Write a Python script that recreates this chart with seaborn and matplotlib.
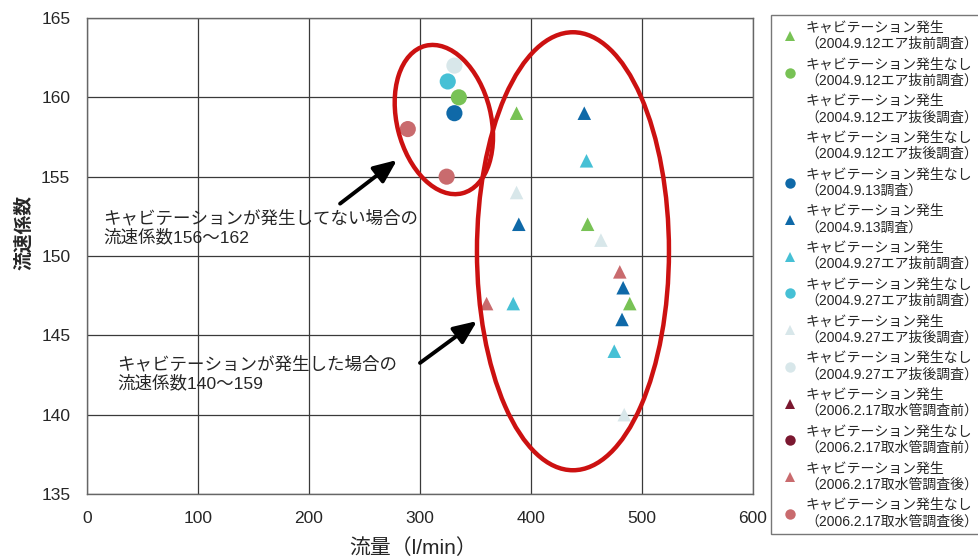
import numpy as np
import pandas as pd
import seaborn as sns
import matplotlib
matplotlib.use('Agg')
import matplotlib.pyplot as plt
from matplotlib.lines import Line2D
from matplotlib.patches import Ellipse
from matplotlib.transforms import ScaledTranslation

sns.set_style('white')
plt.rcParams['font.family'] = ['Liberation Sans', 'Noto Sans CJK JP', 'DejaVu Sans']

# 調査ごとのデータ（キャビテーション発生 = ▲, 発生なし = ●）
surveys = ['2004.9.12エア抜前調査', '2004.9.12エア抜後調査', '2004.9.13調査',
           '2004.9.27エア抜前調査', '2004.9.27エア抜後調査',
           '2006.2.17取水管調査前', '2006.2.17取水管調査後']
colors = ['#78c255', '#ffffff', '#0f69a8', '#46c0d5', '#d8e7ea', '#7b1830', '#c96b6e']

# 発生（▲）
cav_survey = ['2004.9.12エア抜前調査'] * 3 + ['2004.9.13調査'] * 4 \
    + ['2004.9.27エア抜前調査'] * 3 + ['2004.9.27エア抜後調査'] * 3 \
    + ['2006.2.17取水管調査後'] * 2
cav_flow = [387, 451, 489, 448, 389, 483, 482, 450, 384, 475, 387, 463, 484, 480, 360]
cav_coef = [159, 152, 147, 159, 152, 148, 146, 156, 147, 144, 154, 151, 140, 149, 147]

# 発生なし（●）
ok_survey = ['2004.9.27エア抜後調査', '2004.9.27エア抜前調査', '2004.9.12エア抜前調査',
             '2004.9.13調査', '2006.2.17取水管調査後', '2006.2.17取水管調査後']
ok_flow = [331, 325, 335, 331, 289, 324]
ok_coef = [162, 161, 160, 159, 158, 155]

# 凡例の並び
legend_order = [('発生', 0), ('なし', 0), ('発生', 1), ('なし', 1), ('なし', 2), ('発生', 2),
                ('発生', 3), ('なし', 3), ('発生', 4), ('なし', 4), ('発生', 5), ('なし', 5),
                ('発生', 6), ('なし', 6)]

palette = dict(zip(surveys, colors))
cav_df = pd.DataFrame({'survey': cav_survey, 'flow': cav_flow, 'coef': cav_coef})
ok_df = pd.DataFrame({'survey': ok_survey, 'flow': ok_flow, 'coef': ok_coef})

fig = plt.figure(figsize=(9.79, 5.59), dpi=100)
ax = fig.add_axes([87 / 979, 1 - 494 / 559, 666 / 979, 476 / 559])

sns.scatterplot(data=cav_df, x='flow', y='coef', hue='survey', palette=palette,
                marker='^', s=95, linewidth=0, legend=False, ax=ax, zorder=3)
sns.scatterplot(data=ok_df, x='flow', y='coef', hue='survey', palette=palette,
                marker='o', s=135, linewidth=0, legend=False, ax=ax, zorder=3)

ax.set_xlim(0, 600)
ax.set_ylim(135, 165)
ax.set_xticks(np.arange(0, 601, 100))
ax.set_xticks(np.arange(0, 601, 20), minor=True)
ax.set_yticks(np.arange(135, 166, 5))
ax.grid(True, which='major', color='#3a3a3a', lw=0.9)
ax.tick_params(axis='x', which='major', direction='in', length=0, pad=12, labelsize=12.5)
ax.tick_params(axis='x', which='minor', direction='in', length=4, width=0.8, color='#555')
ax.tick_params(axis='y', length=0, pad=12, labelsize=12.5)
for sp in ax.spines.values():
    sp.set_color('#666')
    sp.set_linewidth(1)

ax.set_xlabel('流量（l/min）', fontsize=15)
ax.set_ylabel('流速係数', fontsize=13.5, fontweight='bold')
ax.xaxis.set_label_coords(0.49, -0.092)
ax.yaxis.set_label_coords(-0.081, 0.55)

# 囲み
red = '#cc1111'
ax.add_patch(Ellipse((0, 0), 0.94, 1.52, angle=14, fill=False, ec=red, lw=3.2, zorder=4,
                     transform=fig.dpi_scale_trans + ScaledTranslation(321.5, 158.6, ax.transData)))
ax.add_patch(Ellipse((0, 0), 1.92, 4.38, angle=0, fill=False, ec=red, lw=3.2, zorder=4,
                     transform=fig.dpi_scale_trans + ScaledTranslation(437.8, 150.3, ax.transData)))

# 注記
arrow = dict(arrowstyle='-|>,head_length=0.7,head_width=0.3', color='black', lw=2.8,
             mutation_scale=20, shrinkA=0, shrinkB=0)
ax.annotate('', xy=(279.3, 156.05), xytext=(228, 153.3), arrowprops=arrow, zorder=5)
ax.annotate('', xy=(351.4, 145.9), xytext=(300, 143.26), arrowprops=arrow, zorder=5)
ax.text(14.4, 151.8, 'キャビテーションが発生してない場合の\n流速係数156～162',
        fontsize=12.6, va='center', ha='left', linespacing=1.15, zorder=5)
ax.text(27, 142.6, 'キャビテーションが発生した場合の\n流速係数140～159',
        fontsize=12.6, va='center', ha='left', linespacing=1.15, zorder=5)

# 凡例
handles, labels = [], []
for kind, i in legend_order:
    mk = '^' if kind == '発生' else 'o'
    handles.append(Line2D([], [], marker=mk, ls='none', markersize=7.5,
                          markerfacecolor=colors[i], markeredgewidth=0))
    head = 'キャビテーション発生' if kind == '発生' else 'キャビテーション発生なし'
    labels.append(head + '\n（' + surveys[i] + '）')
leg = fig.legend(handles, labels, loc='upper left', bbox_to_anchor=(771 / 979, 1 - 15 / 559),
                 frameon=True, fancybox=False, edgecolor='#555', fontsize=10,
                 handlelength=1.9, handletextpad=0.15, labelspacing=0.47, borderpad=0.4,
                 borderaxespad=0)
leg.get_frame().set_linewidth(1)

fig.savefig('out.png', dpi=100)
